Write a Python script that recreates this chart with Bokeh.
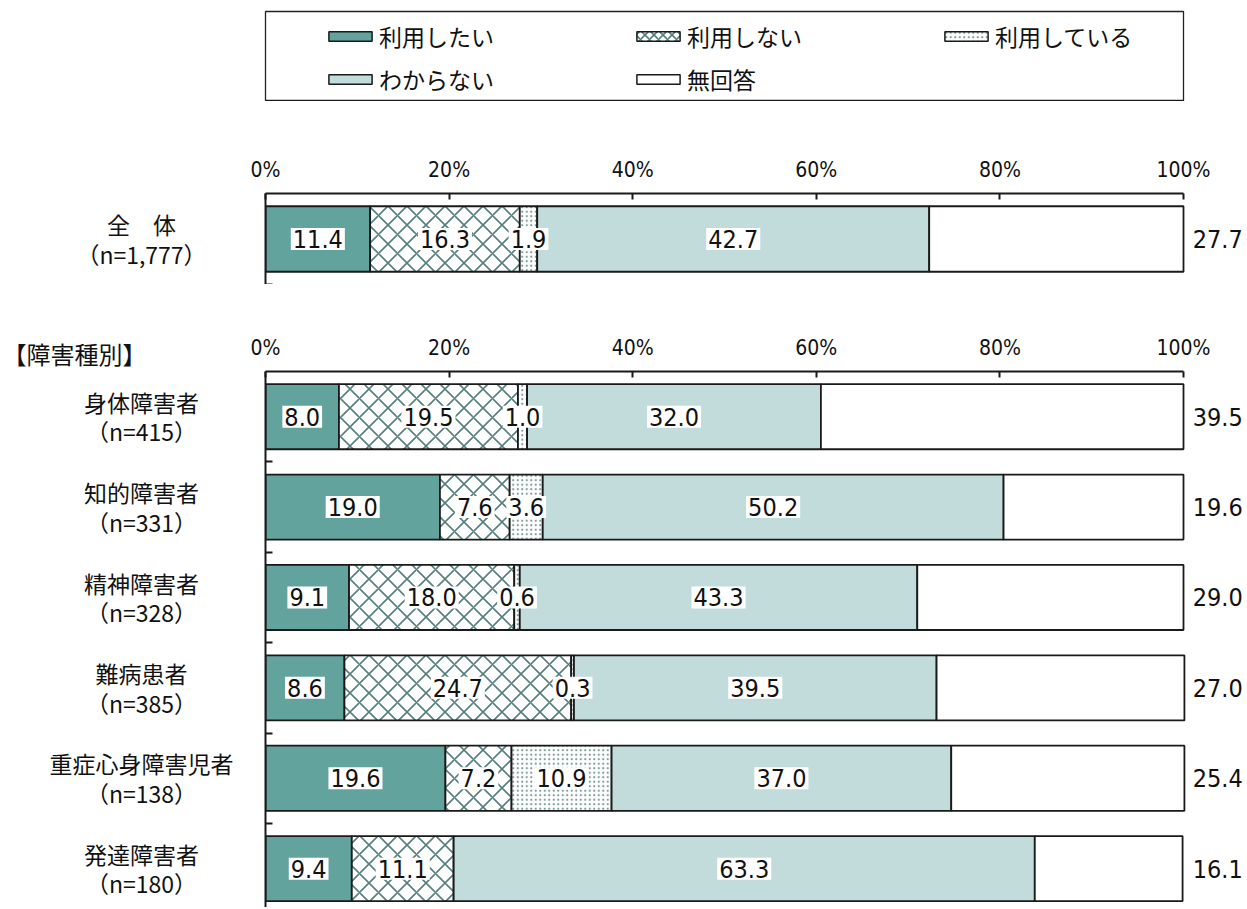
from bokeh.plotting import figure
from bokeh.layouts import column, row
from bokeh.models import (ColumnDataSource, Range1d, FixedTicker, PrintfTickFormatter,
                          Legend, LegendItem)
from bokeh.core.properties import value
from bokeh.embed import file_html
from bokeh.resources import INLINE

# ---------------- data ----------------
series = ["利用したい", "利用しない", "利用している", "わからない", "無回答"]
tick_values = [0, 20, 40, 60, 80, 100]

overall_groups = ["全　体"]
overall_n = ["1,777"]
overall_want = [11.4]
overall_not_use = [16.3]
overall_using = [1.9]
overall_unknown = [42.7]
overall_no_answer = [27.7]

section_header = "【障害種別】"
groups = ["身体障害者", "知的障害者", "精神障害者", "難病患者", "重症心身障害児者", "発達障害者"]
group_n = ["415", "331", "328", "385", "138", "180"]
want = [8.0, 19.0, 9.1, 8.6, 19.6, 9.4]
not_use = [19.5, 7.6, 18.0, 24.7, 7.2, 11.1]
using = [1.0, 3.6, 0.6, 0.3, 10.9, 0.0]
unknown = [32.0, 50.2, 43.3, 39.5, 37.0, 63.3]
no_answer = [39.5, 19.6, 29.0, 27.0, 25.4, 16.1]

# ---------------- styles ----------------
fills = ["#62A39E", "white", "white", "#C1DCDB", "white"]
hatches = [None, "x", ".", None, None]
hatch_colors = ["black", "#557F7C", "#7C9C99", "black", "black"]
hatch_scales = [12, 19, 4.5, 12, 12]
hatch_weights = [1, 1.6, 1.5, 1, 1]
EDGE = "#1a1a1a"
NARROW = "DejaVu Sans Condensed, Roboto"
JP = "Noto Sans CJK JP"

PX_PER_PCT = 9.18
LAB_W = 245
BAR_BORDER_L = 20
BAR_FRAME_W = 980
TOTAL_W = LAB_W + BAR_BORDER_L + BAR_FRAME_W


def make_panel(names, ns, cols, y_start, top_border, frame_h, header=None):
    keys = ["s0", "s1", "s2", "s3", "s4"]
    ys = [i + 0.5 for i in range(len(names))]
    data = dict(y=ys)
    for k, c in zip(keys, cols):
        data[k] = c
    src = ColumnDataSource(data)

    p = figure(width=BAR_BORDER_L + BAR_FRAME_W, height=top_border + frame_h,
               x_range=Range1d(0, BAR_FRAME_W / PX_PER_PCT), y_range=Range1d(y_start, 0),
               x_axis_location="above", y_axis_location="left",
               output_backend="svg", toolbar_location=None,
               min_border_left=BAR_BORDER_L, min_border_right=0,
               min_border_top=top_border, min_border_bottom=0)
    p.outline_line_color = None
    p.xgrid.visible = False
    p.ygrid.visible = False

    p.hbar_stack(keys, y="y", height=0.72, source=src,
                 fill_color=fills, hatch_pattern=hatches, hatch_color=hatch_colors,
                 hatch_scale=hatch_scales, hatch_weight=hatch_weights,
                 line_color=EDGE, line_width=1.8)

    # in-bar value labels
    lx, ly, lt = [], [], []
    for i in range(len(names)):
        left = 0.0
        for c in cols[:4]:
            v = c[i]
            if v > 0:
                lx.append(left + v / 2)
                ly.append(ys[i])
                lt.append(f"{v:.1f}")
            left += v
    p.text(x=lx, y=ly, text=lt, text_align="center", text_baseline="middle",
           text_font=value(NARROW), text_font_size="25px", text_color="#111111",
           background_fill_color="white", padding=2)

    # no-answer labels to the right of the bars
    rx = [101.0] * len(names)
    p.text(x=rx, y=ys, text=[f"{v:.1f}" for v in cols[4]], text_align="left",
           text_baseline="middle", text_font=value(NARROW), text_font_size="25px",
           text_color="#111111")

    xa = p.xaxis[0]
    xa.ticker = FixedTicker(ticks=tick_values)
    xa.formatter = PrintfTickFormatter(format="%d%%")
    xa.bounds = (0, 100)
    xa.major_tick_in = 6
    xa.major_tick_out = 0
    xa.minor_tick_line_color = None
    xa.axis_line_width = 2
    xa.major_tick_line_width = 2
    xa.axis_line_color = EDGE
    xa.major_tick_line_color = EDGE
    xa.major_label_text_font = NARROW
    xa.major_label_text_font_size = "21px"
    xa.major_label_text_color = "#111111"
    xa.major_label_standoff = 12

    boundaries = list(range(1, len(names) + 1))
    ya = p.yaxis[0]
    ya.ticker = FixedTicker(ticks=boundaries)
    ya.major_label_overrides = {b: "" for b in boundaries}
    ya.major_tick_in = 7
    ya.major_tick_out = 0
    ya.minor_tick_line_color = None
    ya.axis_line_width = 2
    ya.major_tick_line_width = 2
    ya.axis_line_color = EDGE
    ya.major_tick_line_color = EDGE
    ya.major_label_standoff = 0

    lab = figure(width=LAB_W, height=top_border + frame_h,
                 x_range=Range1d(0, LAB_W), y_range=p.y_range,
                 x_axis_location=None, y_axis_location=None,
                 output_backend="svg", toolbar_location=None,
                 min_border_left=0, min_border_right=0,
                 min_border_top=top_border, min_border_bottom=0)
    lab.outline_line_color = None
    lab.xgrid.visible = False
    lab.ygrid.visible = False
    texts = [f"{g}\n（n={n}）" for g, n in zip(names, ns)]
    lab.text(x=[141] * len(names), y=ys, text=texts, text_align="center",
             text_baseline="middle", text_font=value(JP), text_font_size="23px",
             text_color="#111111", text_line_height=0.87)
    if header:
        lab.title.text = header
        lab.title.text_font = JP
        lab.title.text_font_size = "24px"
        lab.title.text_font_style = "normal"
        lab.title.text_color = "#111111"
        lab.title.align = "left"
        lab.title.offset = 2
        lab.title.standoff = 2
    return row(lab, p)


# ---------------- legend box ----------------
LEG_LEFT = LAB_W + BAR_BORDER_L
lf = figure(width=TOTAL_W, height=101, x_range=Range1d(0, 1), y_range=Range1d(0, 1),
            x_axis_location=None, y_axis_location=None,
            output_backend="svg", toolbar_location=None,
            min_border_left=LEG_LEFT, min_border_right=TOTAL_W - LEG_LEFT - 918,
            min_border_top=11, min_border_bottom=0)
lf.outline_line_color = "#222222"
lf.outline_line_width = 1.3
lf.xgrid.visible = False
lf.ygrid.visible = False
items = []
for k, name in enumerate(series):
    # legend proxy glyph, placed outside the visible range
    r = lf.hbar(y=[-5], right=[1], height=1, fill_color=fills[k], hatch_pattern=hatches[k],
                hatch_color=hatch_colors[k], hatch_scale=hatch_scales[k] if k != 1 else 9,
                hatch_weight=hatch_weights[k], line_color=EDGE, line_width=1.5)
    items.append(LegendItem(label=name, renderers=[r]))
legend = Legend(items=items, location=(58, 5), orientation="horizontal", ncols=3,
                glyph_width=54, glyph_height=12, label_standoff=2, label_width=243,
                label_height=30, spacing=9, padding=0, margin=0,
                border_line_color=None, background_fill_alpha=0,
                label_text_font=JP, label_text_font_size="23px", label_text_color="#111111")
lf.add_layout(legend)

top_panel = make_panel(overall_groups, overall_n,
                       [overall_want, overall_not_use, overall_using, overall_unknown, overall_no_answer],
                       y_start=1, top_border=92, frame_h=91)
bottom_panel = make_panel(groups, group_n, [want, not_use, using, unknown, no_answer],
                          y_start=5.93, top_border=87, frame_h=536, header=section_header)

layout = column(lf, top_panel, bottom_panel)
open("out.html", "w").write(file_html(layout, INLINE))
